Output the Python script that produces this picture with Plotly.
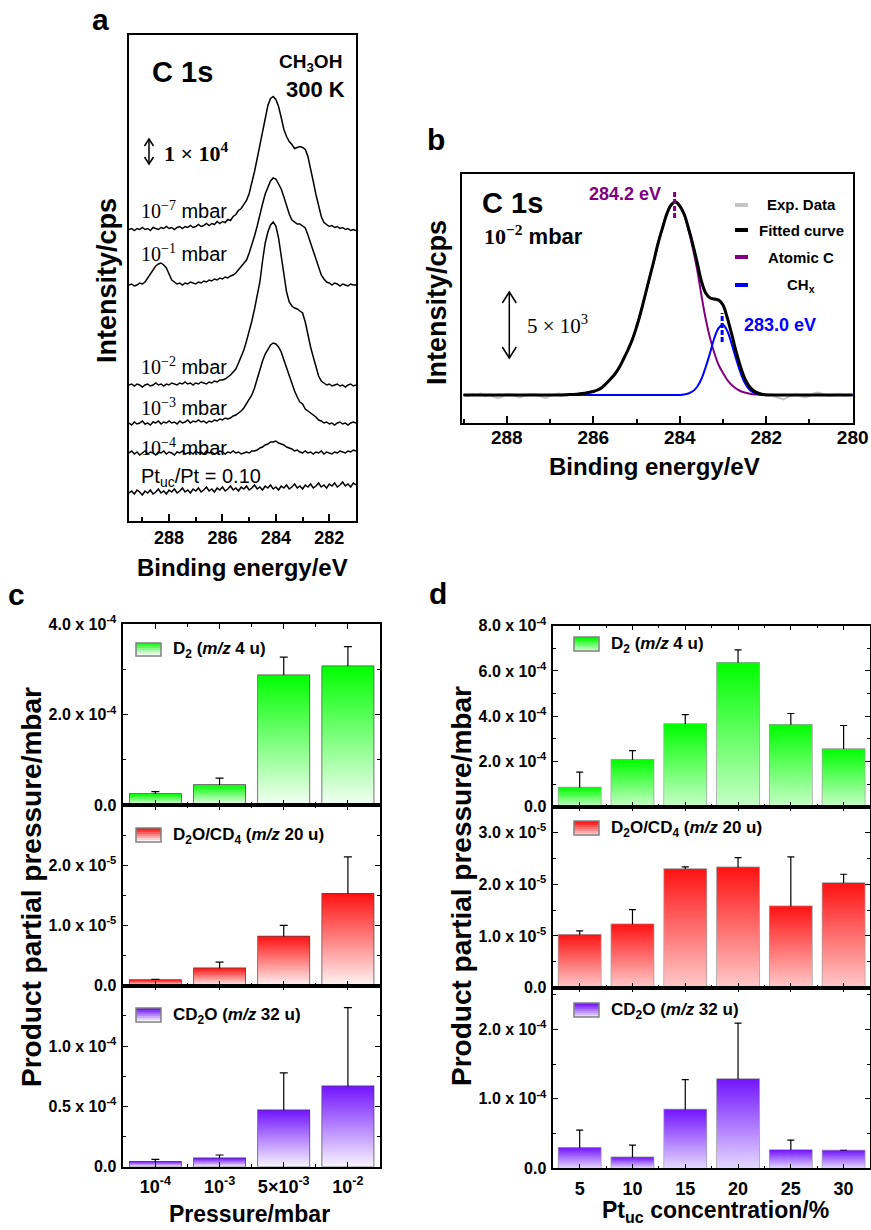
import plotly.graph_objects as go

W, H = 871, 1230
SANS = "Liberation Sans, Arial, Helvetica, sans-serif"
SERIF = "Liberation Serif, Times New Roman, serif"

# ======================= DATA =======================
# ---- Panel a: C 1s spectra (intensity profiles, arbitrary units) ----
E_A = [289.5, 289.4, 289.3, 289.2, 289.1, 289.0,
       288.9, 288.8, 288.7, 288.6, 288.5, 288.4, 288.3, 288.2, 288.1, 288.0,
       287.9, 287.8, 287.7, 287.6, 287.5, 287.4, 287.3, 287.2, 287.1, 287.0,
       286.9, 286.8, 286.7, 286.6, 286.5, 286.4, 286.3, 286.2, 286.1, 286.0,
       285.9, 285.8, 285.7, 285.6, 285.5, 285.4, 285.3, 285.2, 285.1, 285.0,
       284.9, 284.8, 284.7, 284.6, 284.5, 284.4, 284.3, 284.2, 284.1, 284.0,
       283.9, 283.8, 283.7, 283.6, 283.5, 283.4, 283.3, 283.2, 283.1, 283.0,
       282.9, 282.8, 282.7, 282.6, 282.5, 282.4, 282.3, 282.2, 282.1, 282.0,
       281.9, 281.8, 281.7, 281.6, 281.5, 281.4, 281.3, 281.2, 281.1, 281.0]

I_1E7 = [0, 1, -1, 1, 0, 2,
         0, 1, -1, 2, 1, 0, 2, 1, 3, 1,
         2, 0, 2, 3, 1, 3, 2, 4, 2, 3,
         5, 3, 4, 6, 4, 6, 5, 8, 6, 8,
         7, 10, 9, 13, 15, 19, 21, 25, 29, 36,
         46, 58, 71, 85, 99, 113, 124, 131, 133, 130,
         123, 112, 100, 93, 88, 85, 81, 82, 83, 82,
         80, 73, 62, 48, 35, 23, 13, 7, 5, 3,
         4, 2, 3, 1, 2, 0, 1, -1, 0, -1]
I_1E1 = [0, 1, -1, 0, 2, 1,
         3, 7, 12, 16, 19, 21, 22, 20, 17, 11,
         5, 3, 1, 2, 0, 2, 1, 3, 2, 1,
         3, 2, 4, 3, 5, 4, 6, 5, 7, 6,
         8, 7, 9, 10, 12, 15, 18, 22, 25, 32,
         40, 49, 59, 71, 81, 91, 98, 104, 107, 106,
         101, 96, 88, 79, 71, 65, 63, 61, 61, 59,
         57, 50, 42, 33, 25, 16, 10, 6, 3, 2,
         0, 2, 1, -1, 1, 0, -1, 1, 0, 0]
I_1E2 = [0, 1, -1, 1, 0, -2,
         0, 1, -1, 0, 2, 0, 1, -1, 1, 0,
         2, 1, 0, 2, 1, 3, 1, 2, 0, 2,
         1, 3, 2, 1, 3, 2, 4, 3, 5, 5,
         6, 8, 10, 13, 16, 22, 28, 35, 44, 53,
         64, 76, 89, 103, 124, 142, 153, 160, 163, 159,
         147, 130, 112, 93, 83, 79, 77, 76, 74, 72,
         63, 50, 38, 28, 19, 9, 4, 2, 0, 1,
         -1, 0, 1, -1, 0, -2, 0, 1, -1, 0]
I_1E3 = [0, -2, 1, -1, 0, 2,
         -1, 0, -2, 1, 0, 2, -1, 1, 0, 2,
         0, 1, -1, 2, 0, 1, 3, 0, 2, 1,
         3, 1, 2, 0, 2, 1, 3, 2, 4, 3,
         5, 4, 5, 7, 8, 10, 12, 15, 19, 23,
         28, 35, 44, 54, 62, 69, 74, 78, 80, 79,
         76, 71, 63, 55, 46, 38, 32, 26, 21, 19,
         14, 12, 10, 8, 6, 3, 2, 0, 1, -1,
         0, -2, 0, 1, -1, 0, -2, 0, 1, 0]
I_1E4 = [0, 2, -1, 1, -2, 0,
         2, -1, 1, 0, -2, 1, 0, 2, -1, 1,
         0, -2, 1, 0, 2, -1, 0, 1, -1, 2,
         0, 1, -1, 2, 0, 1, -1, 0, 2, 1,
         -1, 1, 0, 2, 0, 1, -1, 0, 1, 0,
         2, 2, 3, 5, 6, 8, 9, 11, 11, 12,
         10, 9, 8, 6, 5, 4, 2, 3, 1, 0,
         2, 0, 1, -1, 1, 0, 2, -1, 1, 0,
         -1, 1, 0, 2, 1, 0, 2, 1, 3, 2]
I_PTUC = [0, 2, -1, 3, 1, -2,
          2, 0, 3, -1, 1, 4, 0, 2, -1, 3,
          1, 4, 0, 2, 5, 1, 3, 0, 4, 2,
          5, 1, 3, 6, 2, 4, 1, 5, 3, 6,
          2, 4, 7, 3, 5, 2, 6, 4, 7, 3,
          5, 8, 4, 6, 3, 7, 5, 8, 4, 6,
          3, 7, 5, 8, 4, 6, 9, 5, 7, 4,
          8, 6, 9, 5, 7, 10, 6, 8, 5, 9,
          7, 10, 6, 8, 11, 7, 9, 6, 10, 8]
SPECTRA_A = [I_1E7, I_1E1, I_1E2, I_1E3, I_1E4, I_PTUC]
LABELS_A = ['<span style="font-family:Liberation Serif">10<sup>\u22127</sup></span> mbar',
            '<span style="font-family:Liberation Serif">10<sup>\u22121</sup></span> mbar',
            '<span style="font-family:Liberation Serif">10<sup>\u22122</sup></span> mbar',
            '<span style="font-family:Liberation Serif">10<sup>\u22123</sup></span> mbar',
            '<span style="font-family:Liberation Serif">10<sup>\u22124</sup></span> mbar',
            'Pt<sub>uc</sub>/Pt = 0.10']
TICKS_A = [282, 284, 286, 288]

# ---- Panel b: fitted C 1s spectrum at 1e-2 mbar ----
E_B = [289.0, 288.9, 288.8, 288.7, 288.6, 288.5, 288.4, 288.3, 288.2, 288.1,
       288.0, 287.9, 287.8, 287.7, 287.6, 287.5, 287.4, 287.3, 287.2, 287.1,
       287.0, 286.9, 286.8, 286.7, 286.6, 286.5, 286.4, 286.3, 286.2, 286.1,
       286.0, 285.9, 285.8, 285.7, 285.6, 285.5, 285.4, 285.3, 285.2, 285.1,
       285.0, 284.9, 284.8, 284.7, 284.6, 284.5, 284.4, 284.3, 284.2, 284.1,
       284.0, 283.9, 283.8, 283.7, 283.6, 283.5, 283.4, 283.3, 283.2, 283.1,
       283.0, 282.9, 282.8, 282.7, 282.6, 282.5, 282.4, 282.3, 282.2, 282.1,
       282.0, 281.9, 281.8, 281.7, 281.6, 281.5, 281.4, 281.3, 281.2, 281.1,
       281.0, 280.9, 280.8, 280.7, 280.6, 280.5, 280.4, 280.3, 280.2, 280.1,
       280.0]
EXP_B = [0.5, -1, 1, -0.5, 1.5, -1.5, 0, -2, -3, -1.5,
         1, 0.5, -1, -2.5, -1, 0.5, 1, -0.5, -2, -3,
         -1, 0, 1.5, 0.5, -0.5, 1, 0, 1.5, 1, 3,
         4, 5.5, 7, 12, 16.5, 20, 28, 36.5, 44, 56,
         67, 84, 99, 118, 133, 153, 166, 182, 191, 195,
         188, 182, 166, 152, 132, 113, 101, 98, 95, 94,
         90, 76, 62, 43, 30, 16, 10, 4, 2.5, 0,
         -1, 1, -1.5, -3, -4.5, -2, -0.5, 1, -1, -2.5,
         -1, 1.5, 2.5, 1, -0.5, -1, 0, 1, -0.5, 0,
         0.5]
FIT_B = [0, 0, 0, 0, 0, 0, 0, 0, 0, 0,
         0, 0, 0, 0, 0, 0, 0, 0, 0, 0,
         0, 0, 0, 0, 0.3, 0.5, 0.8, 1.2, 1.8, 2.6,
         3.5, 5, 7.5, 11.5, 16, 21, 27.5, 36, 45, 55,
         68, 83, 100, 117, 134, 152, 167, 181, 190, 193,
         189, 181, 167, 151, 133, 114, 102, 97, 96, 95,
         90, 77, 61, 44, 29, 17, 9, 4.5, 2, 0.8,
         0.3, 0, 0, 0, 0, 0, 0, 0, 0, 0,
         0, 0, 0, 0, 0, 0, 0, 0, 0, 0,
         0]
ATOMIC_C_B = [0, 0, 0, 0, 0, 0, 0, 0, 0, 0,
              0, 0, 0, 0, 0, 0, 0, 0, 0, 0,
              0, 0, 0, 0, 0.3, 0.5, 0.8, 1.2, 1.8, 2.6,
              3.5, 5, 7.5, 11.5, 16, 21, 27.5, 36, 45, 55,
              68, 83, 100, 117, 134, 152, 167, 181, 190, 193,
              189, 180.5, 165.5, 147, 126, 100, 76, 57, 42, 30,
              22, 15, 10, 6.5, 4, 2.5, 1.5, 0.8, 0.4, 0.2,
              0, 0, 0, 0, 0, 0, 0, 0, 0, 0,
              0, 0, 0, 0, 0, 0, 0, 0, 0, 0,
              0]
CHX_B = [0, 0, 0, 0, 0, 0, 0, 0, 0, 0,
         0, 0, 0, 0, 0, 0, 0, 0, 0, 0,
         0, 0, 0, 0, 0, 0, 0, 0, 0, 0,
         0, 0, 0, 0, 0, 0, 0, 0, 0, 0,
         0, 0, 0, 0, 0, 0, 0, 0, 0, 0,
         0.1, 0.5, 1.5, 3.7, 8, 16, 28, 42, 57, 67,
         70, 64, 51, 36.5, 23, 12.5, 6, 2.6, 1, 0.3,
         0, 0, 0, 0, 0, 0, 0, 0, 0, 0,
         0, 0, 0, 0, 0, 0, 0, 0, 0, 0,
         0]
PEAK_ATOMIC_EV = 284.12
PEAK_CHX_EV = 283.02
TICKS_B = [280, 282, 284, 286, 288]

# ---- Panel c: product partial pressure vs CH3OH pressure ----
PRESSURES = ["10<sup>-4</sup>", "10<sup>-3</sup>", "5\u00d710<sup>-3</sup>", "10<sup>-2</sup>"]
C_D2 = [2.44e-5, 4.44e-5, 2.874e-4, 3.074e-4]
C_D2_HI = [2.96e-5, 5.93e-5, 3.274e-4, 3.504e-4]
C_D2_LO = [1.70e-5, 1.70e-5, 2.259e-4, 2.393e-4]
C_D2O = [0.95e-6, 2.9e-6, 8.16e-6, 1.526e-5]
C_D2O_HI = [1.05e-6, 3.9e-6, 1.0e-5, 2.14e-5]
C_D2O_LO = [0.85e-6, 1.8e-6, 5.59e-6, 0.63e-5]
C_CD2O = [4.2e-6, 6.9e-6, 4.67e-5, 6.67e-5]
C_CD2O_HI = [6.1e-6, 9.7e-6, 7.78e-5, 1.319e-4]
C_CD2O_LO = [2.8e-6, 4.2e-6, 3.11e-5, 3.33e-5]

# ---- Panel d: product partial pressure vs Pt_uc concentration ----
PT_UC = ["5", "10", "15", "20", "25", "30"]
D_D2 = [8.47e-5, 2.07e-4, 3.65e-4, 6.36e-4, 3.62e-4, 2.55e-4]
D_D2_HI = [1.53e-4, 2.48e-4, 4.07e-4, 6.93e-4, 4.12e-4, 3.59e-4]
D_D2_LO = [1.46e-5, 1.64e-4, 3.18e-4, 5.64e-4, 3.09e-4, 8.8e-5]
D_D2O = [1.026e-5, 1.226e-5, 2.297e-5, 2.329e-5, 1.574e-5, 2.026e-5]
D_D2O_HI = [1.097e-5, 1.51e-5, 2.335e-5, 2.516e-5, 2.529e-5, 2.194e-5]
D_D2O_LO = [0.955e-5, 0.955e-5, 2.258e-5, 2.142e-5, 0.677e-5, 1.839e-5]
D_CD2O = [2.97e-5, 1.58e-5, 8.47e-5, 1.287e-4, 2.63e-5, 2.58e-5]
D_CD2O_HI = [5.5e-5, 3.35e-5, 1.278e-4, 2.09e-4, 4.07e-5, 2.58e-5]
D_CD2O_LO = [0.72e-5, 0.24e-5, 4.35e-5, 5.02e-5, 1.44e-5, 2.58e-5]

SERIES_NAMES = ["D<sub>2</sub> (<i>m/z</i> 4 u)",
                "D<sub>2</sub>O/CD<sub>4</sub> (<i>m/z</i> 20 u)",
                "CD<sub>2</sub>O (<i>m/z</i> 32 u)"]

# y tick labels
C_TICKS = [([0, 2e-4, 4e-4], ["0.0", "2.0 x 10<sup>-4</sup>", "4.0 x 10<sup>-4</sup>"]),
           ([0, 1e-5, 2e-5], ["0.0", "1.0 x 10<sup>-5</sup>", "2.0 x 10<sup>-5</sup>"]),
           ([0, 0.5e-4, 1e-4], ["0.0", "0.5 x 10<sup>-4</sup>", "1.0 x 10<sup>-4</sup>"])]
D_TICKS = [([0, 2e-4, 4e-4, 6e-4, 8e-4], ["0.0", "2.0 x 10<sup>-4</sup>", "4.0 x 10<sup>-4</sup>",
                                          "6.0 x 10<sup>-4</sup>", "8.0 x 10<sup>-4</sup>"]),
           ([0, 1e-5, 2e-5, 3e-5], ["0.0", "1.0 x 10<sup>-5</sup>", "2.0 x 10<sup>-5</sup>", "3.0 x 10<sup>-5</sup>"]),
           ([0, 1e-4, 2e-4], ["0.0", "1.0 x 10<sup>-4</sup>", "2.0 x 10<sup>-4</sup>"])]

for s in SPECTRA_A:
    assert len(s) == len(E_A), len(s)
for s in (EXP_B, FIT_B, ATOMIC_C_B, CHX_B):
    assert len(s) == len(E_B), len(s)

# ======================= STYLE / LAYOUT =======================
OFFSETS_A = [291.5, 236, 136, 98, 68, 28]       # vertical stacking of spectra
LABEL_Y_A = [210, 253, 366, 407, 447, 477]
BAR_W = 0.8

GREEN = ("#00ff00", "#f4fff4", "#c8ffc8")   # top, bottom (c), bottom (d)
RED = ("#ff1212", "#fff4f4", "#ffcaca")
PURPLE = ("#7214ff", "#f8f4ff", "#e4d8ff")


def px(x):
    return x / W


def py(y):
    return 1 - y / H


def hex2rgb(h):
    h = h.lstrip('#')
    return tuple(int(h[i:i + 2], 16) for i in (0, 2, 4))


def mix(c1, c2, t):
    a, b = hex2rgb(c1), hex2rgb(c2)
    return "rgb(%d,%d,%d)" % tuple(round(a[i] + (b[i] - a[i]) * t) for i in range(3))


fig = go.Figure()

# ---- panel a traces ----
for prof, off in zip(SPECTRA_A, OFFSETS_A):
    fig.add_trace(go.Scatter(x=E_A, y=[v + off for v in prof], mode='lines',
                             line=dict(color='black', width=1.5), xaxis='x', yaxis='y',
                             hoverinfo='skip'))

# ---- panel b traces ----
fig.add_trace(go.Scatter(x=E_B, y=EXP_B, mode='lines', line=dict(color='#c4c4c4', width=2),
                         xaxis='x2', yaxis='y2', hoverinfo='skip'))
fig.add_trace(go.Scatter(x=E_B, y=ATOMIC_C_B, mode='lines', line=dict(color='#800080', width=2, shape='spline'),
                         xaxis='x2', yaxis='y2', hoverinfo='skip'))
fig.add_trace(go.Scatter(x=E_B, y=CHX_B, mode='lines', line=dict(color='#0000ff', width=2, shape='spline'),
                         xaxis='x2', yaxis='y2', hoverinfo='skip'))
fig.add_trace(go.Scatter(x=E_B, y=FIT_B, mode='lines', line=dict(color='black', width=3, shape='spline'),
                         xaxis='x2', yaxis='y2', hoverinfo='skip'))


def add_bars(vals, hi, lo, cats, xa, ya, top, bottom, edge, capw):
    idx = list(range(len(cats)))
    for i, v in zip(idx, vals):
        fig.add_trace(go.Scatter(
            x=[i - BAR_W / 2, i - BAR_W / 2, i + BAR_W / 2, i + BAR_W / 2, i - BAR_W / 2],
            y=[0, v, v, 0, 0], mode='lines', line=dict(width=0, color='rgba(0,0,0,0)'),
            fill='toself',
            fillgradient=dict(type='vertical', colorscale=[[0, bottom], [1, top]], start=0, stop=v),
            xaxis=xa, yaxis=ya, hoverinfo='skip'))
    fig.add_trace(go.Bar(
        x=idx, y=vals, width=BAR_W, xaxis=xa, yaxis=ya,
        marker=dict(color='rgba(0,0,0,0)', line=dict(color=edge, width=1.5)),
        error_y=dict(type='data', symmetric=False,
                     array=[h - v for h, v in zip(hi, vals)],
                     arrayminus=[v - l for v, l in zip(vals, lo)],
                     color='black', thickness=1.2, width=capw),
        hoverinfo='skip'))


C_EDGE, D_EDGE = '#4a4a4a', '#a0a0a0'
add_bars(C_D2, C_D2_HI, C_D2_LO, PRESSURES, 'x3', 'y3', GREEN[0], GREEN[1], C_EDGE, 4)
add_bars(C_D2O, C_D2O_HI, C_D2O_LO, PRESSURES, 'x4', 'y4', RED[0], RED[1], C_EDGE, 4)
add_bars(C_CD2O, C_CD2O_HI, C_CD2O_LO, PRESSURES, 'x5', 'y5', PURPLE[0], PURPLE[1], C_EDGE, 4)
add_bars(D_D2, D_D2_HI, D_D2_LO, PT_UC, 'x6', 'y6', GREEN[0], GREEN[2], D_EDGE, 3.5)
add_bars(D_D2O, D_D2O_HI, D_D2O_LO, PT_UC, 'x7', 'y7', RED[0], RED[2], D_EDGE, 3.5)
add_bars(D_CD2O, D_CD2O_HI, D_CD2O_LO, PT_UC, 'x8', 'y8', PURPLE[0], PURPLE[2], D_EDGE, 3.5)

# ---- axes ----
def tfont(size):
    return dict(family=SANS, size=size, color='black', weight='bold')


def spec_x(domain, rng, ticks, anchor, size, standoff):
    return dict(domain=domain, range=rng, anchor=anchor, tickmode='array', tickvals=ticks,
                ticktext=[str(t) for t in ticks], ticks='inside', ticklen=7, tickwidth=1.5,
                tickcolor='black',
                minor=dict(tickmode='linear', tick0=281, dtick=1, ticks='inside', ticklen=4,
                           tickwidth=1.5, tickcolor='black'),
                showline=True, linewidth=2, linecolor='black', mirror=True, showgrid=False,
                zeroline=False, tickfont=tfont(size), ticklabelstandoff=standoff,
                automargin=False)


def spec_y(domain, rng, anchor):
    return dict(domain=domain, range=rng, anchor=anchor, showticklabels=False, ticks='',
                showline=True, linewidth=2, linecolor='black', mirror=True, showgrid=False,
                zeroline=False, automargin=False)


def bar_x(domain, cats, anchor, show):
    n = len(cats)
    return dict(domain=domain, range=[-0.5, n - 0.5], anchor=anchor, tickmode='array',
                tickvals=list(range(n)), ticktext=cats, showticklabels=show, ticks='inside',
                ticklen=5, tickwidth=1.2, tickcolor='black',
                minor=dict(tickmode='linear', tick0=0.5, dtick=1, ticks='inside', ticklen=3,
                           tickwidth=1.2, tickcolor='black'),
                showline=True, linewidth=1.5, linecolor='black', mirror='allticks',
                showgrid=False, zeroline=False, tickfont=tfont(18), ticklabelstandoff=3,
                automargin=False)


def bar_y(domain, rng, ticks, minor_dtick, anchor):
    return dict(domain=domain, range=rng, anchor=anchor, tickmode='array', tickvals=ticks[0],
                ticktext=ticks[1], ticks='inside', ticklen=5, tickwidth=1.2, tickcolor='black',
                minor=dict(tickmode='linear', tick0=0, dtick=minor_dtick, ticks='inside',
                           ticklen=3, tickwidth=1.2, tickcolor='black'),
                showline=True, linewidth=1.5, linecolor='black', mirror='allticks',
                showgrid=False, zeroline=False, tickfont=tfont(16), ticklabelstandoff=2,
                automargin=False)


CX = [px(123.3), px(380)]
DX = [px(553.3), px(870)]
layout_axes = dict(
    xaxis=spec_x([px(129), px(356)], [289.5, 281.0], TICKS_A, 'y', 18, -1),
    yaxis=spec_y([py(521), py(35)], [0, 486], 'x'),
    xaxis2=spec_x([px(462.3), px(852.7)], [289.03, 280.0], TICKS_B, 'y2', 19, -4),
    yaxis2=spec_y([py(423.3), py(174)], [-28.3, 221], 'x2'),
    xaxis3=bar_x(CX, PRESSURES, 'y3', False),
    yaxis3=bar_y([py(805), py(624.3)], [0, 4e-4], C_TICKS[0], 1e-4, 'x3'),
    xaxis4=bar_x(CX, PRESSURES, 'y4', False),
    yaxis4=bar_y([py(985.7), py(805)], [0, 3e-5], C_TICKS[1], 5e-6, 'x4'),
    xaxis5=bar_x(CX, PRESSURES, 'y5', True),
    yaxis5=bar_y([py(1166.7), py(985.7)], [0, 1.5e-4], C_TICKS[2], 2.5e-5, 'x5'),
    xaxis6=bar_x(DX, PT_UC, 'y6', False),
    yaxis6=bar_y([py(806.7), py(625.7)], [0, 8e-4], D_TICKS[0], 1e-4, 'x6'),
    xaxis7=bar_x(DX, PT_UC, 'y7', False),
    yaxis7=bar_y([py(987.7), py(806.7)], [0, 3.5e-5], D_TICKS[1], 5e-6, 'x7'),
    xaxis8=bar_x(DX, PT_UC, 'y8', True),
    yaxis8=bar_y([py(1168.3), py(987.7)], [0, 2.6e-4], D_TICKS[2], 5e-5, 'x8'),
)

# ---- annotations ----
ann = []


def txt(s, x, y, size, color='black', family=SANS, xanchor='center', yanchor='middle',
        angle=0, bold=True):
    ann.append(dict(text=s, x=px(x), y=py(y), xref='paper', yref='paper', showarrow=False,
                    xanchor=xanchor, yanchor=yanchor, textangle=angle,
                    font=dict(family=family, size=size, color=color,
                              weight='bold' if bold else 'normal')))


# panel a
txt("a", 100, 20, 30)
txt("C 1s", 150, 72, 29, xanchor='left')
txt("CH<sub>3</sub>OH", 310, 63, 19)
txt("300 K", 315, 90, 22)
txt("1 \u00d7 10<sup>4</sup>", 162, 152, 22, family=SERIF, xanchor='left')
for lab, yy in zip(LABELS_A, LABEL_Y_A):
    txt(lab, 139, yy, 20, xanchor='left', bold=False)
txt("Binding energy/eV", 242, 567, 24)
txt("Intensity/cps", 107, 281, 27, angle=-90)

# panel b
txt("b", 436, 139, 30)
txt("C 1s", 480, 203, 29, xanchor='left')
txt('<span style="font-family:Liberation Serif">10<sup>\u22122</sup></span> mbar', 482, 235, 22,
    xanchor='left')
txt("284.2 eV", 625, 194, 18, color='#800080')
txt("283.0 eV", 780, 325, 18, color='#0000ff')
txt("5 \u00d7 10<sup>3</sup>", 525, 325, 21, family=SERIF, xanchor='left', bold=False)
LEG_B = [("Exp. Data", '#c4c4c4', 205), ("Fitted curve", 'black', 230),
         ("Atomic C", '#800080', 257), ("CH<sub>x</sub>", '#0000ff', 285)]
for name, col, yy in LEG_B:
    txt(name, 801, yy, 15)
txt("Binding energy/eV", 654, 467, 24)
txt("Intensity/cps", 437, 303, 27, angle=-90)

# panel c / d
txt("c", 16, 594, 30)
txt("d", 438, 593, 30)
txt("Product partial pressure/mbar", 31, 887, 28, angle=-90)
txt("Product partial pressure/mbar", 461, 886, 28, angle=-90)
txt("Pressure/mbar", 250, 1214, 23)
txt("Pt<sub>uc</sub> concentration/%", 715, 1211, 23)

# ---- shapes ----
shapes = []


def dbl_arrow(x, y0, y1, hw, hh, w):
    shapes.append(dict(type='line', xref='paper', yref='paper', x0=px(x), x1=px(x),
                       y0=py(y0), y1=py(y1), line=dict(color='black', width=w)))
    for yt, sgn in ((y0, 1), (y1, -1)):
        path = "M %f,%f L %f,%f L %f,%f" % (px(x - hw), py(yt + sgn * hh), px(x), py(yt),
                                            px(x + hw), py(yt + sgn * hh))
        shapes.append(dict(type='path', xref='paper', yref='paper', path=path,
                           line=dict(color='black', width=w)))


dbl_arrow(149, 139, 164, 4.5, 7, 1.5)
dbl_arrow(509.3, 292, 358, 7, 11, 1.5)

# legend line samples panel b
for name, col, yy in LEG_B:
    shapes.append(dict(type='line', xref='paper', yref='paper', x0=px(735), x1=px(748),
                       y0=py(yy), y1=py(yy), line=dict(color=col, width=4)))

# peak markers panel b (data coordinates)
shapes.append(dict(type='line', xref='x2', yref='y2', x0=PEAK_ATOMIC_EV, x1=PEAK_ATOMIC_EV,
                   y0=177, y1=205, line=dict(color='#800080', width=3, dash='5px,2px')))
shapes.append(dict(type='line', xref='x2', yref='y2', x0=PEAK_CHX_EV, x1=PEAK_CHX_EV,
                   y0=53, y1=82, line=dict(color='#0000ff', width=3, dash='5px,2px')))


def legend_box(x0, y0, x1, y1, top, bottom, n=7):
    hgt = (y1 - y0) / n
    for k in range(n):
        shapes.append(dict(type='rect', xref='paper', yref='paper', x0=px(x0), x1=px(x1),
                           y0=py(y0 + k * hgt), y1=py(y0 + (k + 1) * hgt),
                           fillcolor=mix(top, bottom, k / (n - 1)), line=dict(width=0)))
    shapes.append(dict(type='rect', xref='paper', yref='paper', x0=px(x0), x1=px(x1),
                       y0=py(y0), y1=py(y1), line=dict(color='#808080', width=1.5)))


LEG_C = [(643, 656, GREEN[0], GREEN[1]), (828, 842, RED[0], RED[1]),
         (1008, 1022, PURPLE[0], PURPLE[1])]
LEG_D = [(637, 651, GREEN[0], GREEN[2]), (821, 835, RED[0], RED[2]),
         (1003, 1017, PURPLE[0], PURPLE[2])]
for (y0, y1, t, b), name in zip(LEG_C, SERIES_NAMES):
    legend_box(136, y0, 161, y1, t, b)
    txt(name, 171, (y0 + y1) / 2 + 1, 17, xanchor='left')
for (y0, y1, t, b), name in zip(LEG_D, SERIES_NAMES):
    legend_box(574, y0, 599, y1, t, b)
    txt(name, 609, (y0 + y1) / 2 + 1, 17, xanchor='left')

fig.update_layout(
    width=W, height=H, margin=dict(l=0, r=0, t=0, b=0, autoexpand=False),
    paper_bgcolor='white', plot_bgcolor='white', showlegend=False,
    annotations=ann, shapes=shapes, font=dict(family=SANS, color='black'),
    **layout_axes)

fig.write_html("out.html")
